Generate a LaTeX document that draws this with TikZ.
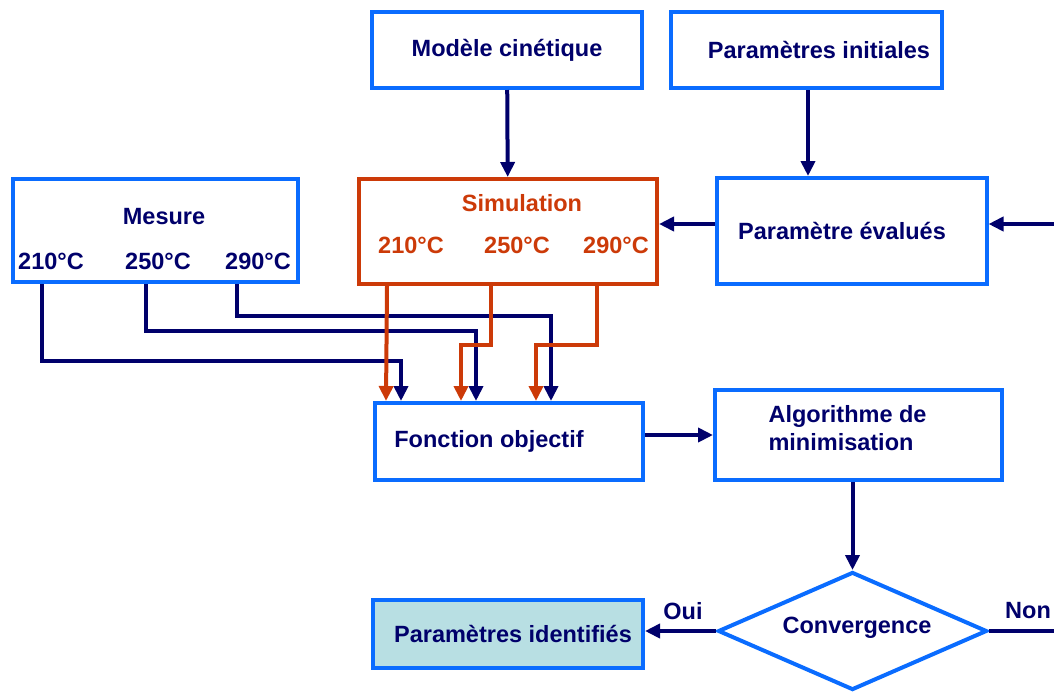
\documentclass[tikz,border=0pt]{standalone}
\usepackage{fontspec}
\setmainfont{Liberation Sans}
\usetikzlibrary{
  shapes.geometric,
  arrows.meta,
  positioning
}

\definecolor{bleu}{HTML}{0A6CFF}
\definecolor{marine}{HTML}{00006B}
\definecolor{rouge}{HTML}{CC3A08}
\definecolor{turquoise}{HTML}{B8DFE3}

\begin{document}
\begin{tikzpicture}[
  x = 1pt, y = -1pt,
  % ── Base box ───────────────────────────────────────────
  boite/.style={
    rectangle,
    draw       = bleu,
    line width = 4pt,
    fill       = white,
    inner sep  = 0pt,
    text       = marine,
    font       = \bfseries\fontsize{23.5}{28}\selectfont
  },
  % ── Simulation box ─────────────────────────────────────
  boiterouge/.style={
    boite,
    draw = rouge,
  },
  % ── Decision diamond ───────────────────────────────────
  losange/.style={
    boite,
    diamond,
    aspect         = 2.28,
    minimum width  = 269pt,
    minimum height = 118pt
  },
  % ── Texts ──────────────────────────────────────────────
  etiq/.style={
    text = marine,
    font = \bfseries\fontsize{23.5}{28}\selectfont
  },
  etiqrouge/.style={
    etiq,
    text = rouge
  },
  % ── Connectors ─────────────────────────────────────────
  fil/.style={
    draw       = marine,
    line width = 4pt
  },
  fleche/.style={
    fil,
    -{Triangle[length=15pt, width=14pt]}
  },
  filrouge/.style={
    draw       = rouge,
    line width = 4pt,
    -{Triangle[length=15pt, width=14pt]}
  }
]
\useasboundingbox (0,0) rectangle (1054,691);

% ── Boxes ──────────────────────────────────────────────────
\node[boite, minimum width=270pt, minimum height=76pt]  (modele) at (507,50)    {Modèle cinétique};
\node[boite, minimum width=271pt, minimum height=76pt]  (init)   at (806.5,50)  {\hspace*{25pt}Paramètres initiales};
\node[boite, minimum width=285pt, minimum height=103pt] (mesure) at (155.5,230.5) {};
\node[boiterouge, minimum width=298pt, minimum height=105pt] (simu) at (508,231.5) {};
\node[boite, minimum width=270pt, minimum height=106pt] (evalue) at (851.5,231) {\hspace*{-19pt}Paramètre évalués};
\node[boite, minimum width=268pt, minimum height=77pt]  (fobj)   at (509,441.5) {\hspace*{-40pt}Fonction objectif};
\node[boite, minimum width=287pt, minimum height=90pt]  (algo)   at (858.5,435) {};
\node[losange]                                          (conv)   at (852.5,631) {};
\node[boite, fill=turquoise, minimum width=270pt, minimum height=68pt] (ident) at (508,634) {\hspace*{10pt}Paramètres identifiés};

% ── Texts inside boxes ─────────────────────────────────────
\node[etiq] (mtitre) at (164,217) {Mesure};
\node[etiq] (m210)   at (51,261)  {210°C};
\node[etiq] (m250)   at (158,261) {250°C};
\node[etiq] (m290)   at (258,261) {290°C};
\node[etiqrouge] (stitre) at (522,203) {Simulation};
\node[etiqrouge] (s210)   at (411,245) {210°C};
\node[etiqrouge] (s250)   at (517,245) {250°C};
\node[etiqrouge] (s290)   at (616,245) {290°C};
\node[etiq, align=left, anchor=west] (algotxt) at (765,428) {Algorithme de\\minimisation};
\node[etiq] (convtxt) at (857,628) {Convergence};
\node[etiq] (oui) at (683,611) {Oui};
\node[etiq] (non) at (1028,611) {Non};

% ── Free ends on the right ─────────────────────────────────
\coordinate (retour) at (1054,224);
\coordinate (sortie) at (1054,631);

% ── Main flow ──────────────────────────────────────────────
\draw[fleche] (modele) -- (simu);
\draw[fleche] ([xshift=1.5pt]init.south) -- ([xshift=1.5pt]init.south |- evalue.north);
\draw[fleche] ([yshift=7pt]evalue.west) -- ([yshift=7pt]evalue.west -| simu.east);
\draw[fleche] (retour) -- (retour -| evalue.east);
\draw[fleche] (fobj.east |- algo.west) -- (algo.west);
\draw[fleche] (conv.north |- algo.south) -- (conv.north);
\draw[fleche] (conv.west) -- (conv.west -| ident.east);
\draw[fil]    (conv.east) -- (sortie);

% ── Measured curves to objective ───────────────────────────
\foreach \dx/\dy/\fx in {31/77/28, 135/47/103, 226/32/178}
  \draw[fleche] ([xshift=\dx pt]mesure.south west) -- ++(0,\dy)
    -| ([xshift=\fx pt]fobj.north west);

% ── Simulated curves to objective ──────────────────────────
\draw[filrouge] ([xshift=30pt]simu.south west) -- ([xshift=13pt]fobj.north west);
\foreach \dx/\fx in {134/88, 240/163}
  \draw[filrouge] ([xshift=\dx pt]simu.south west) -- ++(0,59)
    -| ([xshift=\fx pt]fobj.north west);

\end{tikzpicture}
\end{document}
